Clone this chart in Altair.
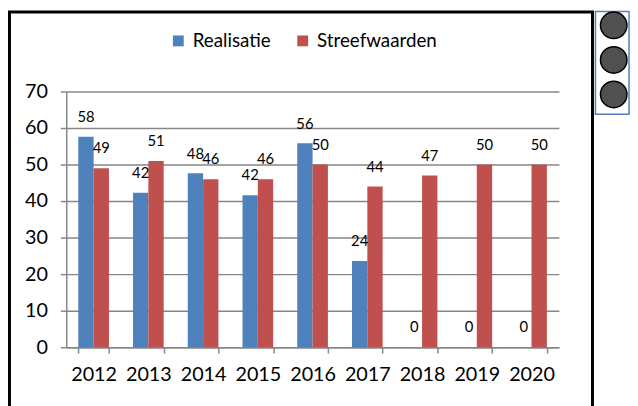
import altair as alt
import pandas as pd

years = ["2012", "2013", "2014", "2015", "2016", "2017", "2018", "2019", "2020"]
series = ["Realisatie", "Streefwaarden"]
realisatie = [57.6, 42.3, 47.6, 41.6, 55.8, 23.6, 0, 0, 0]
streefwaarden = [49, 51, 46, 46, 50, 44, 47, 50, 50]
colors = ["#4F81BD", "#C0504D"]
y_ticks = [0, 10, 20, 30, 40, 50, 60, 70]

rows = []
for i, y in enumerate(years):
    rows.append({"year": y, "series": series[0], "value": realisatie[i]})
    rows.append({"year": y, "series": series[1], "value": streefwaarden[i]})
df = pd.DataFrame(rows)

FONT = "Lato"
GRID = "#868686"

x_enc = alt.X(
    "year:N",
    sort=years,
    scale=alt.Scale(paddingInner=0.44, paddingOuter=0.22),
    axis=alt.Axis(
        title=None, labelAngle=0, tickBand="extent", grid=False,
        domainColor=GRID, domainWidth=1.5, tickColor=GRID, tickWidth=1.5,
        tickSize=6, labelFont=FONT, labelFontSize=20, labelColor="black",
        labelPadding=12,
    ),
)
xo_enc = alt.XOffset("series:N", sort=series, scale=alt.Scale(paddingInner=0, paddingOuter=0))
y_enc = alt.Y(
    "value:Q",
    scale=alt.Scale(domain=[0, 70], nice=False),
    axis=alt.Axis(
        title=None, values=y_ticks, grid=True, gridColor=GRID, gridWidth=1.5,
        domainColor=GRID, domainWidth=1.5, tickColor=GRID, tickWidth=1.5,
        tickSize=6, labelFont=FONT, labelFontSize=20, labelColor="black",
        labelPadding=13,
    ),
)

base = alt.Chart(df).encode(x=x_enc, xOffset=xo_enc, y=y_enc)

bars = base.mark_bar().encode(
    color=alt.Color(
        "series:N", sort=series,
        scale=alt.Scale(domain=series, range=colors),
        legend=alt.Legend(
            title=None, orient="none", legendX=104, legendY=-61,
            direction="horizontal", symbolType="square", symbolSize=121,
            symbolStrokeWidth=0, labelFont=FONT, labelFontSize=19,
            labelColor="black", labelOffset=5, columnPadding=22, padding=0,
        ),
    )
)

labels = base.mark_text(dy=-20, baseline="middle", align="center",
                        font=FONT, fontSize=15, color="black").encode(
    text=alt.Text("value:Q", format=".0f")
)

deco = alt.Chart(pd.DataFrame({"k": [0]}))

frame_left = deco.mark_rule(color="black", strokeWidth=3).encode(
    x=alt.value(-57.5), y=alt.value(-80.5), y2=alt.value(320))
frame_top = deco.mark_rule(color="black", strokeWidth=3).encode(
    x=alt.value(-59), x2=alt.value(534.5), y=alt.value(-80.5))
frame_right = deco.mark_rule(color="black", strokeWidth=3).encode(
    x=alt.value(533), y=alt.value(-80.5), y2=alt.value(320))

box = deco.mark_rect(fill="white", stroke="#5B7DB8", strokeWidth=1.5).encode(
    x=alt.value(536), x2=alt.value(570), y=alt.value(-81), y2=alt.value(23))

circles = [
    deco.mark_circle(size=720, color="#505050", stroke="black", strokeWidth=1.5, opacity=1).encode(
        x=alt.value(554.5), y=alt.value(cy))
    for cy in (-67, -32, 3)
]

chart = alt.layer(bars, labels, frame_left, frame_top, frame_right, box, *circles).properties(
    width=499, height=259,
    padding={"left": 59, "top": 82, "right": 72, "bottom": 57},
    autosize=alt.AutoSizeParams(type="none"),
).configure_view(stroke=None)

chart.save("out.html", embed_options={"renderer": "svg", "actions": False})
